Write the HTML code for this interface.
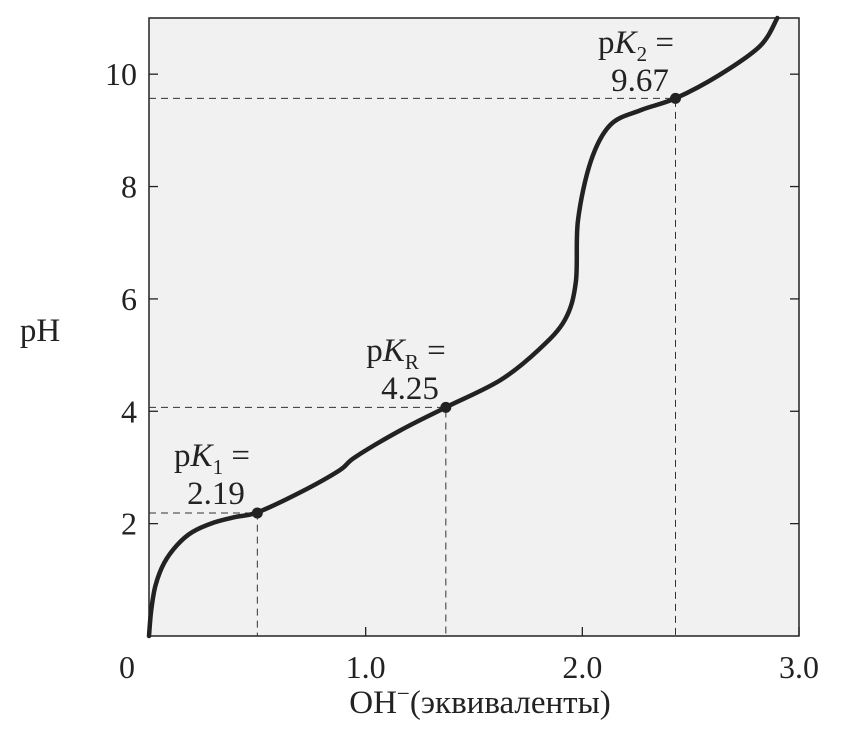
<!DOCTYPE html>
<html><head><meta charset="utf-8"><style>
body{margin:0;background:#fff}
svg text{font-family:"Liberation Serif",serif;fill:#222}
</style></head><body>
<svg width="851" height="747">
<g id="g"></g>
</svg>
<script>
const xTicks=[1.0,2.0,3.0];
const xTickLabels=["1.0","2.0","3.0"];
const yTicks=[2,4,6,8,10];
const yTickLabels=["2","4","6","8","10"];
const curveX=[0.0,0.01,0.03,0.07,0.13,0.2,0.3,0.4,0.5,0.7,0.88,0.95,1.16,1.37,1.62,1.8,1.92,1.97,1.98,2.04,2.13,2.27,2.43,2.63,2.82,2.9];
const curveY=[0.0,0.45,0.9,1.3,1.62,1.85,2.02,2.12,2.2,2.56,2.95,3.18,3.66,4.07,4.55,5.1,5.63,6.3,7.4,8.46,9.1,9.36,9.57,9.98,10.5,11];
const pkX=[0.5,1.37,2.43];
const pkY=[2.19,4.07,9.57];
const pkNames=["1","R","2"];
const pkValues=["2.19","4.25","9.67"];
const X0=149,X1=799,Y0=636,Y1=18,XMAX=3,YMAX=11;
const sx=v=>X0+(X1-X0)*v/XMAX, sy=v=>Y0-(Y0-Y1)*v/YMAX;
const g=document.getElementById('g');const NS="http://www.w3.org/2000/svg";
function mk(t,a,p){const e=document.createElementNS(NS,t);for(const k in a)e.setAttribute(k,a[k]);(p||g).appendChild(e);return e;}
let r=mk('rect',{x:X0,y:Y1,width:X1-X0,height:Y0-Y1,fill:'#f1f1f1',stroke:'#222','stroke-width':1.5});

yTicks.forEach((v,i)=>{const y=sy(v);
 let t=mk('line',{x1:X0,x2:X0+9,y1:y,y2:y,stroke:'#222','stroke-width':1.3});
 t=mk('line',{x1:X1-9,x2:X1,y1:y,y2:y,stroke:'#222','stroke-width':1.3});
 const l=mk('text',{x:X0-12,y:y+11,'text-anchor':'end','font-size':32});l.textContent=yTickLabels[i];});
xTicks.forEach((v,i)=>{const x=sx(v);
 let t=mk('line',{x1:x,x2:x,y1:Y0,y2:Y0-9,stroke:'#222','stroke-width':1.3});
 const l=mk('text',{x:x,y:Y0+42,'text-anchor':'middle','font-size':32});l.textContent=xTickLabels[i];});
let z=mk('text',{x:127,y:678,'text-anchor':'middle','font-size':32});z.textContent='0';
pkX.forEach((v,i)=>{const x=sx(v),y=sy(pkY[i]);
 let d=mk('path',{d:`M${X0},${y}H${x}V${Y0}`,fill:'none',stroke:'#333','stroke-width':1,'stroke-dasharray':'7,5'});});
const P=curveX.map((v,i)=>[sx(v),sy(curveY[i])]);
let d=`M${P[0][0]},${P[0][1]}`;
for(let i=0;i<P.length-1;i++){const p0=P[Math.max(0,i-1)],p1=P[i],p2=P[i+1],p3=P[Math.min(P.length-1,i+2)];
 d+=`C${p1[0]+(p2[0]-p0[0])/6},${p1[1]+(p2[1]-p0[1])/6} ${p2[0]-(p3[0]-p1[0])/6},${p2[1]-(p3[1]-p1[1])/6} ${p2[0]},${p2[1]}`;}
let c=mk('path',{d:d,fill:'none',stroke:'#222','stroke-width':4.5,'stroke-linecap':'round'});
const labPos=[[212,455],[406,350],[636,42]];
pkX.forEach((v,i)=>{let p=mk('circle',{cx:sx(v),cy:sy(pkY[i]),r:5.5,fill:'#222'});
 const [lx,ly]=labPos[i];
 let t=mk('text',{x:lx,y:ly+11,'text-anchor':'middle','font-size':33});
 t.innerHTML=`p<tspan font-style="italic">K</tspan><tspan font-size="21" dy="8">${pkNames[i]}</tspan><tspan dy="-8"> =</tspan>`;
 let t2=mk('text',{x:lx+4,y:ly+49,'text-anchor':'middle','font-size':33});t2.textContent=pkValues[i];});
let yt=mk('text',{x:40,y:341,'text-anchor':'middle','font-size':33});yt.textContent='pH';
let xt=mk('text',{x:480,y:713,'text-anchor':'middle','font-size':33});xt.innerHTML='OH<tspan font-size="23" dy="-12">−</tspan><tspan dy="12">(эквиваленты)</tspan>';
</script>
</body></html>
